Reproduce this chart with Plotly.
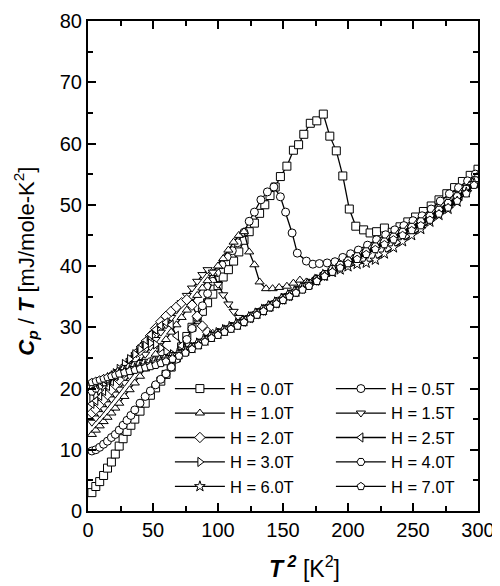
import plotly.graph_objects as go

# T^2 [K^2] and Cp/T [mJ/mole-K^2], one pair per field
t2_00 = [3, 6, 9, 12, 15, 18, 21, 24, 27, 30, 33, 36, 40, 44, 48, 52, 56, 60, 64, 68, 72, 76, 80,
         84, 88, 92, 96, 100, 104, 108, 112, 116, 120, 124, 128, 132, 136, 140, 144, 148, 153, 158,
         162, 166, 171, 176, 181, 186, 191, 196, 201, 206, 212, 217, 222, 228, 234, 240, 246, 252,
         258, 264, 270, 276, 282, 288, 294, 300]
c_00 = [3.0, 4.0, 4.8, 5.8, 7.0, 8.0, 9.3, 10.6, 11.8, 13.0, 14.0, 15.0, 16.3, 17.6, 18.9, 20.1,
        21.2, 22.3, 23.5, 25.0, 26.8, 28.5, 30.0, 31.3, 32.6, 34.0, 35.4, 36.8, 38.2, 39.4, 40.8,
        42.3, 44.2, 45.6, 47.0, 48.6, 50.0, 51.5, 52.9, 54.6, 56.3, 58.9, 59.8, 61.5, 63.3, 63.7,
        64.8, 61.2, 58.8, 54.7, 49.3, 46.5, 45.9, 45.4, 45.6, 46.2, 45.5, 46.4, 47.2, 48.0, 48.9,
        49.8, 50.8, 51.8, 52.8, 53.8, 54.8, 55.8]

t2_05 = [3, 6, 9, 12, 15, 18, 21, 24, 27, 30, 33, 36, 40, 44, 48, 52, 56, 60, 64, 68, 72, 76, 80,
         84, 88, 92, 96, 99, 103, 107, 111, 115, 120, 124, 128, 133, 138, 143, 148, 152, 157, 161,
         168, 173, 178, 184, 190, 196, 202, 208, 215, 222, 229, 236, 243, 250, 257, 264, 271, 278,
         285, 292, 298]
c_05 = [9.8, 10.0, 10.4, 10.9, 11.4, 12.0, 12.5, 13.2, 14.0, 14.8, 15.6, 16.5, 17.6, 18.7, 19.6,
        20.6, 21.5, 22.4, 23.5, 24.8, 26.3, 28.0, 29.8, 31.6, 33.5, 35.5, 37.5, 38.9, 40.2, 41.5,
        42.5, 43.8, 45.5, 47.3, 48.8, 50.8, 52.1, 52.9, 51.3, 48.8, 45.4, 42.1, 40.8, 40.3, 40.4,
        40.5, 40.7, 41.4, 42.0, 42.6, 43.4, 44.3, 45.1, 45.9, 46.6, 47.4, 48.2, 49.3, 50.6, 51.8,
        52.8, 53.9, 55.0]

t2_10 = [3, 6, 9, 12, 15, 18, 21, 24, 28, 32, 36, 40, 44, 48, 52, 56, 60, 64, 68, 72, 76, 80, 84,
         88, 92, 96, 100, 104, 108, 112, 116, 120, 124, 128, 132, 137, 142, 147, 153, 158, 163, 168,
         174, 180, 186, 192, 198, 204, 211, 218, 225, 232, 239, 246, 253, 260, 267, 274, 281, 288,
         295, 300]
c_10 = [12.5, 13.2, 13.9, 14.6, 15.3, 16.0, 16.8, 17.6, 18.7, 19.8, 20.9, 22.0, 23.2, 24.4, 25.6,
        26.8, 28.0, 29.2, 30.4, 31.6, 32.8, 34.0, 35.2, 36.4, 37.6, 38.8, 40.0, 41.2, 42.6, 43.9,
        45.0, 45.6, 42.3, 40.2, 37.4, 36.3, 36.3, 36.5, 36.7, 37.2, 37.7, 37.4, 37.8, 38.5, 39.2,
        39.9, 40.6, 41.3, 42.1, 43.0, 43.8, 44.6, 45.4, 46.2, 47.0, 47.9, 48.8, 49.9, 51.0, 52.2,
        53.6, 54.8]

t2_15 = [3, 6, 9, 12, 15, 18, 21, 24, 28, 32, 36, 40, 44, 48, 52, 56, 60, 64, 68, 72, 76, 80, 84,
         88, 92, 96, 100, 104, 108, 112, 116, 120, 125, 130, 135, 140, 145, 150, 155, 160, 165, 170,
         176, 182, 188, 194, 200, 207, 214, 221, 228, 235, 242, 249, 256, 263, 270, 277, 284, 291,
         298]
c_15 = [14.5, 15.2, 15.9, 16.7, 17.5, 18.3, 19.1, 19.9, 21.0, 22.1, 23.2, 24.4, 25.6, 26.8, 28.0,
        29.2, 30.4, 31.6, 32.8, 34.0, 35.2, 36.4, 37.5, 38.6, 39.4, 39.0, 37.0, 35.3, 33.8, 32.6,
        31.6, 31.2, 31.6, 32.2, 32.8, 33.4, 34.0, 34.6, 35.2, 35.8, 36.4, 37.0, 37.8, 38.6, 39.3,
        40.0, 40.7, 41.4, 42.2, 43.0, 43.8, 44.6, 45.4, 46.2, 47.0, 47.9, 48.9, 50.0, 51.1, 52.4,
        53.9]

t2_20 = [3, 6, 9, 12, 15, 18, 21, 24, 28, 32, 36, 40, 44, 48, 52, 56, 60, 64, 68, 72, 76, 80, 84,
         88, 92, 96, 100, 105, 110, 115, 120, 125, 130, 135, 140, 145, 150, 155, 160, 165, 170, 176,
         182, 188, 194, 200, 207, 214, 221, 228, 235, 242, 249, 256, 263, 270, 277, 284, 291, 298]
c_20 = [16.0, 16.6, 17.4, 18.2, 19.0, 19.8, 20.6, 21.4, 22.6, 23.8, 25.0, 26.2, 27.4, 28.6, 29.8,
        30.9, 31.8, 32.6, 33.3, 34.0, 34.5, 33.6, 31.8, 30.2, 29.2, 28.8, 29.0, 29.5, 30.0, 30.5,
        31.0, 31.6, 32.2, 32.8, 33.4, 34.0, 34.6, 35.2, 35.8, 36.4, 37.0, 37.7, 38.5, 39.2, 39.9,
        40.6, 41.3, 42.1, 42.9, 43.7, 44.5, 45.3, 46.1, 46.9, 47.8, 48.8, 49.8, 51.0, 52.3, 53.7]

t2_25 = [3, 6, 9, 12, 15, 18, 21, 24, 28, 32, 36, 40, 44, 48, 52, 56, 60, 64, 68, 72, 76, 80, 85,
         90, 95, 100, 105, 110, 115, 120, 125, 130, 135, 140, 145, 150, 155, 160, 165, 170, 176,
         182, 188, 194, 200, 207, 214, 221, 228, 235, 242, 249, 256, 263, 270, 277, 284, 291, 298]
c_25 = [17.5, 18.0, 18.8, 19.6, 20.4, 21.2, 22.0, 22.8, 23.8, 24.8, 25.8, 26.8, 27.8, 28.8, 29.6,
        30.3, 30.8, 30.4, 28.6, 27.0, 26.2, 26.6, 27.2, 27.9, 28.5, 29.0, 29.5, 30.0, 30.4, 30.9,
        31.5, 32.1, 32.7, 33.3, 33.9, 34.5, 35.1, 35.7, 36.3, 36.9, 37.6, 38.4, 39.1, 39.8, 40.5,
        41.2, 42.0, 42.8, 43.6, 44.4, 45.2, 46.0, 46.8, 47.7, 48.7, 49.7, 50.9, 52.2, 53.6]

t2_30 = [3, 6, 9, 12, 15, 18, 21, 24, 28, 32, 36, 40, 44, 48, 52, 56, 60, 65, 70, 75, 80, 85, 90,
         95, 100, 105, 110, 115, 120, 125, 130, 135, 140, 145, 150, 155, 160, 165, 170, 176, 182,
         188, 194, 200, 207, 214, 221, 228, 235, 242, 249, 256, 263, 270, 277, 284, 291, 298]
c_30 = [18.5, 19.0, 19.7, 20.4, 21.1, 21.8, 22.5, 23.2, 24.0, 24.8, 25.6, 26.4, 27.0, 27.4, 27.2,
        26.6, 26.0, 25.6, 25.8, 26.3, 26.9, 27.5, 28.1, 28.7, 29.2, 29.7, 30.2, 30.7, 31.2, 31.8,
        32.4, 33.0, 33.6, 34.2, 34.8, 35.4, 36.0, 36.6, 37.2, 37.9, 38.7, 39.4, 40.1, 40.8, 41.5,
        42.3, 43.1, 43.9, 44.7, 45.5, 46.3, 47.2, 48.1, 49.1, 50.2, 51.3, 52.5, 53.9]

t2_40 = [3, 6, 9, 12, 15, 18, 21, 24, 28, 32, 36, 40, 44, 48, 52, 56, 60, 65, 70, 75, 80, 85, 90,
         95, 100, 105, 110, 115, 120, 125, 130, 135, 140, 145, 150, 155, 160, 165, 170, 176, 182,
         188, 194, 200, 207, 214, 221, 228, 235, 242, 249, 256, 263, 270, 277, 284, 291, 298]
c_40 = [19.5, 20.0, 20.5, 21.0, 21.5, 22.0, 22.4, 22.8, 23.2, 23.5, 23.8, 24.0, 24.2, 24.4, 24.6,
        24.8, 25.0, 25.3, 25.7, 26.2, 26.8, 27.4, 28.0, 28.6, 29.1, 29.6, 30.1, 30.6, 31.2, 31.8,
        32.4, 33.0, 33.6, 34.2, 34.8, 35.4, 36.0, 36.6, 37.2, 37.9, 38.7, 39.5, 40.2, 40.9, 41.6,
        42.4, 43.2, 44.0, 44.8, 45.6, 46.4, 47.3, 48.2, 49.2, 50.3, 51.4, 52.6, 54.0]

t2_60 = [3, 6, 9, 12, 15, 18, 21, 24, 28, 32, 36, 40, 44, 48, 52, 56, 60, 65, 70, 75, 80, 85, 90,
         95, 100, 105, 110, 115, 120, 125, 130, 135, 140, 145, 150, 155, 160, 165, 170, 176, 182,
         188, 194, 200, 207, 214, 221, 228, 235, 242, 249, 256, 263, 270, 277, 284, 291, 297]
c_60 = [20.5, 20.8, 21.1, 21.4, 21.7, 22.0, 22.2, 22.5, 22.8, 23.0, 23.3, 23.5, 23.7, 23.9, 24.2,
        24.4, 24.7, 25.1, 25.6, 26.1, 26.6, 27.2, 27.8, 28.4, 28.9, 29.4, 29.9, 30.4, 31.0, 31.6,
        32.2, 32.8, 33.4, 34.0, 34.6, 35.2, 35.8, 36.4, 37.0, 37.7, 38.4, 39.0, 39.4, 39.9, 40.3,
        40.5, 41.0, 42.0, 43.0, 44.0, 45.0, 46.0, 47.2, 48.3, 49.3, 50.5, 52.0, 53.5]

t2_70 = [3, 6, 9, 12, 15, 18, 21, 24, 28, 32, 36, 40, 44, 48, 52, 56, 60, 65, 70, 75, 80, 85, 90,
         95, 100, 105, 110, 115, 120, 125, 130, 135, 140, 145, 150, 155, 160, 165, 170, 176, 182,
         188, 194, 200, 207, 214, 221, 228, 235, 242, 249, 256, 263, 270, 277, 284, 291, 297]
c_70 = [21.0, 21.2, 21.4, 21.6, 21.8, 22.0, 22.2, 22.4, 22.6, 22.8, 23.0, 23.2, 23.4, 23.6, 23.8,
        24.1, 24.4, 24.8, 25.3, 25.8, 26.4, 27.0, 27.6, 28.2, 28.7, 29.2, 29.7, 30.2, 30.8, 31.4,
        32.0, 32.6, 33.2, 33.8, 34.4, 35.0, 35.6, 36.1, 36.7, 37.5, 38.3, 39.0, 39.7, 40.4, 41.1,
        41.9, 42.7, 43.5, 44.3, 45.0, 45.8, 46.6, 47.5, 48.5, 49.5, 50.6, 51.8, 53.2]

names = ["H = 0.0T", "H = 0.5T", "H = 1.0T", "H = 1.5T", "H = 2.0T",
         "H = 2.5T", "H = 3.0T", "H = 4.0T", "H = 6.0T", "H = 7.0T"]
symbols = ["square", "circle", "triangle-up", "triangle-down", "diamond",
           "triangle-left", "triangle-right", "hexagon2", "star", "pentagon"]
xs = [t2_00, t2_05, t2_10, t2_15, t2_20, t2_25, t2_30, t2_40, t2_60, t2_70]
ys = [c_00, c_05, c_10, c_15, c_20, c_25, c_30, c_40, c_60, c_70]

fig = go.Figure()
for i, (name, sym, x, y) in enumerate(zip(names, symbols, xs, ys)):
    fig.add_trace(go.Scatter(
        x=x, y=y, mode="lines+markers", name=name,
        line=dict(color="black", width=1.3),
        marker=dict(symbol=sym, size=8, color="white",
                    line=dict(color="black", width=1)),
        # right legend column gets a narrower slot so the legend doesn't push the margin
        legendwidth=96 if i % 2 == 0 else 75,
    ))

axis_common = dict(
    showline=True, linewidth=2, linecolor="black", mirror="allticks",
    ticks="inside", ticklen=8, tickwidth=1.5, tickcolor="black",
    showgrid=False, zeroline=False, automargin=False,
)
fig.update_xaxes(
    range=[0, 300], tick0=0, dtick=50,
    minor=dict(dtick=25, ticks="inside", ticklen=5, tickwidth=1.5, tickcolor="black"),
    **axis_common,
)
fig.update_yaxes(
    range=[0, 80], tick0=0, dtick=10,
    minor=dict(dtick=5, ticks="inside", ticklen=5, tickwidth=1.5, tickcolor="black"),
    **axis_common,
)

# axis titles as annotations so they sit where the original puts them
fig.add_annotation(
    text="<b><i>T</i></b><sup><b><i> 2</i></b></sup> [K<sup>2</sup>]",
    xref="paper", yref="paper", x=0.555, y=-0.114, showarrow=False,
    font=dict(size=23), xanchor="center", yanchor="middle",
)
fig.add_annotation(
    text="<b><i>C</i></b><sub><b><i>p</i></b></sub> / <b><i>T</i></b> [mJ/mole-K<sup>2</sup>]",
    xref="paper", yref="paper", x=-0.16, y=0.51, showarrow=False, textangle=-90,
    font=dict(size=22), xanchor="center", yanchor="middle",
)

# the page body has an 8px margin, so the figure is a bit smaller than the window
fig.update_layout(
    width=492, height=578,
    margin=dict(l=80, r=22, t=13, b=75),
    plot_bgcolor="white", paper_bgcolor="white",
    font=dict(family="Liberation Sans, Arial, sans-serif", size=20, color="black"),
    legend=dict(
        orientation="h", x=0.21, y=0.285, xanchor="left", yanchor="top",
        itemwidth=50, font=dict(size=16.5),
        bgcolor="rgba(0,0,0,0)", tracegroupgap=0,
    ),
)

fig.write_html("out.html")
